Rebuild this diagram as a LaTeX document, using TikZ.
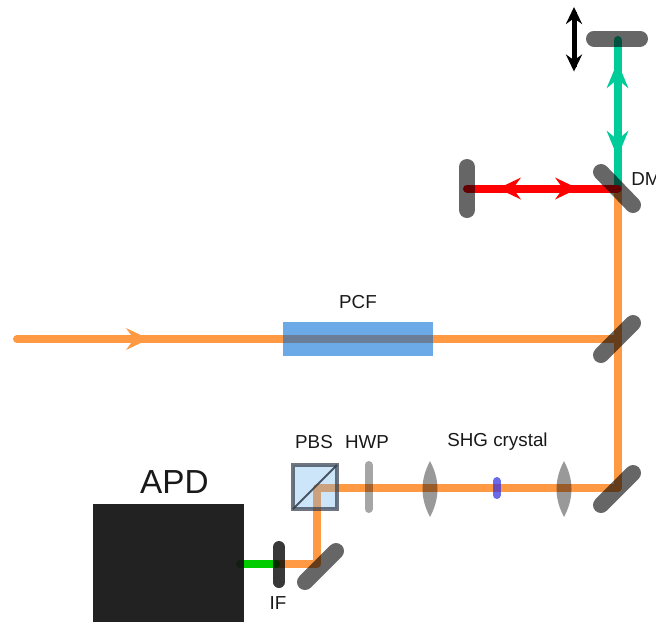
\documentclass[tikz,border=0pt]{standalone}
\usepackage{fontspec}
\setmainfont{Liberation Sans}
\definecolor{beamor}{RGB}{255,153,68}
\definecolor{beamgr}{RGB}{0,204,153}
\definecolor{beamgg}{RGB}{0,204,0}
\definecolor{pcfblue}{RGB}{0,108,212}
\definecolor{pbsblue}{RGB}{110,180,235}
\definecolor{pbsedge}{RGB}{50,60,75}
\definecolor{crystal}{RGB}{50,50,225}
\definecolor{apdbox}{RGB}{20,20,20}
\tikzset{
  beam/.style={line width=6pt,line cap=round,line join=round},
  mirror/.style={line width=12pt,line cap=round,draw=black,draw opacity=.6},
  thinoptic/.style={line width=6pt,line cap=round,draw=black,draw opacity=.35},
  lensshape/.style={fill=black,fill opacity=.4},
  label/.style={inner sep=0pt,font=\fontsize{14.1}{16}\selectfont,text=black!90},
  pics/head/.style={code={
    \path[pic actions] (0,0) -- (-23,-11) .. controls (-19,-5) .. (-15,0)
      .. controls (-19,5) .. (-23,11) -- cycle;}}
}
\begin{document}
\begin{tikzpicture}[x=.75pt,y=-.75pt]
\clip (0,0) rectangle (656,622);
% beam coordinates
\coordinate (in) at (17,339);
\coordinate (mPCF) at (617.5,339);
\coordinate (mDM) at (617.5,188.5);
\coordinate (mB) at (617.5,488);
\coordinate (cPBS) at (317,488);
\coordinate (mL) at (317,563.5);
\coordinate (gA) at (240,563.5);
\coordinate (gB) at (276,563.5);
\coordinate (mTop) at (617.5,40);
\coordinate (mRed) at (467,188.5);
\coordinate (aT) at (574,12);
\coordinate (aB) at (574,67);
% beams
\draw[beam,beamor] (in) -- (mPCF);
\draw[beam,beamor] (mDM) -- (mB) -- (cPBS) -- (mL) -- (gB);
\draw[beam,beamgg] (gA) -- (gB);
\draw[beam,beamgr] (mDM) -- (mTop);
\draw[beam,red] (mRed) -- (mDM);
% arrowheads
\pic[fill=beamor] at (149,339) {head};
\pic[fill=beamgr,rotate=90,xscale=1.15] at (617.5,62) {head};
\pic[fill=beamgr,rotate=-90,xscale=1.15] at (617.5,157) {head};
\pic[fill=red,rotate=180] at (498,188.5) {head};
\pic[fill=red] at (578,188.5) {head};
\draw[line width=3.75pt,black] (aT) -- (aB);
\pic[fill=black,rotate=90,scale=.75] at (574,7) {head};
\pic[fill=black,rotate=-90,scale=.75] at (574,71.5) {head};
% mirrors
\draw[mirror] (601,172) -- (633,205);
\draw[mirror] (467,167) -- (467,210);
\draw[mirror] (594,38.5) -- (640,38.5);
\draw[mirror] (601,355) -- (633,323);
\draw[mirror] (601,505) -- (633,473);
\draw[mirror] (305,582) -- (336,551);
% IF
\draw[line width=9pt,line cap=round,draw=black,draw opacity=.78] (279,547) -- (279,582);
% PCF
\fill[pcfblue,fill opacity=.58] (283,322) rectangle (433,356);
% PBS
\path[fill=pbsblue,fill opacity=.35] (293,465) rectangle (337,509);
\draw[line width=3pt,pbsedge,draw opacity=.7] (293,465) rectangle (337,509);
\draw[line width=1.5pt,pbsedge,draw opacity=.85] (293,509) -- (337,465);
% HWP, crystal
\draw[thinoptic] (368.5,465) -- (368.5,509);
\draw[line width=6pt,line cap=round,draw=crystal,draw opacity=.72] (496.7,481) -- (496.7,495);
% lenses
\path[lensshape] (430,461) .. controls (440,480) and (440,498) .. (430,517)
   .. controls (420,498) and (420,480) .. (430,461) -- cycle;
\path[lensshape] (564,461) .. controls (574,480) and (574,498) .. (564,517)
   .. controls (554,498) and (554,480) .. (564,461) -- cycle;
% APD
\fill[apdbox,fill opacity=.94] (93,504) rectangle (244,622);
% labels
\node[label] (tPCF) at (358,302) {PCF};
\node[label] (tPBS) at (314,442) {PBS};
\node[label] (tHWP) at (367,442) {HWP};
\node[label] (tSHG) at (497.5,441.5) {SHG crystal};
\node[label,anchor=west] (tDM) at (631,179) {DM};
\node[label] (tIF) at (278,603) {IF};
\node[label,font=\fontsize{25}{30}\selectfont] (tAPD) at (174.5,482) {APD};
\end{tikzpicture}
\end{document}
